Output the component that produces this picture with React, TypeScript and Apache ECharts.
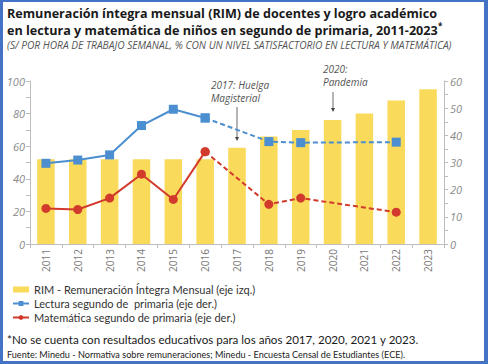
import React, { useEffect, useRef } from "react";
import * as echarts from "echarts";

const years = ["2011","2012","2013","2014","2015","2016","2017","2018","2019","2020","2021","2022","2023"];
const rim = [52, 52, 52, 52, 52, 52, 59, 66, 70, 76, 80, 88, 95];
const lectura = [29.7, 30.9, 32.8, 43.6, 49.6, 46.4, null, 37.7, 37.3, null, null, 37.5, null];
const matematica = [13.1, 12.7, 16.9, 25.7, 16.4, 34.0, null, 14.6, 16.9, null, null, 11.7, null];
const leftTicks = [0, 20, 40, 60, 80, 100];
const rightTicks = [0, 10, 20, 30, 40, 50, 60];

const SOLID_END = 5;
const solid = (a: (number | null)[]) => a.map((v, i) => (i <= SOLID_END ? v : null));
const dashed = (a: (number | null)[]) => a.map((v, i) => (i >= SOLID_END ? v : null));

const N_RIM = "RIM - Remuneración Íntegra Mensual (eje izq.)";
const N_LEC = "Lectura segundo de  primaria (eje der.)";
const N_MAT = "Matemática segundo de primaria (eje der.)";

const FONT = "Open Sans";
const FONT2 = "Lato";
const YELLOW = "#f9da5b";
const BLUE = "#4b8fd1";
const RED = "#d23a2c";

export default function App() {
  const ref = useRef<HTMLDivElement>(null);
  useEffect(() => {
    if (!ref.current) return;
    const chart = echarts.init(ref.current, undefined, { renderer: "svg" });
    const axisText = { color: "#8a8a8a", fontFamily: FONT, fontSize: 11, fontStyle: "italic" as const };
    const arrow = (x: number, y1: number, y2: number) => [
      { type: "line", shape: { x1: x, y1, x2: x, y2: y2 - 3 }, style: { stroke: "#444", lineWidth: 0.8 } },
      { type: "polygon", shape: { points: [[x - 2, y2 - 4], [x + 2, y2 - 4], [x, y2]] }, style: { fill: "#444" } },
    ];
    const titleStyle = { fontFamily: FONT, fontSize: 12.6, fontWeight: "bold" as const, fill: "#1a1a1a" };
    const annStyle = { fontFamily: FONT, fontSize: 10, fontStyle: "italic" as const, fill: "#555" };
    chart.setOption({
      animation: false,
      textStyle: { fontFamily: FONT },
      legend: {
        orient: "vertical",
        left: 7,
        top: 279,
        itemWidth: 16,
        itemHeight: 6,
        itemGap: 3,
        textStyle: { fontFamily: FONT2, fontSize: 11, color: "#333" },
        data: [{ name: N_RIM, icon: "rect" }, { name: N_LEC }, { name: N_MAT }],
      },
      grid: { left: 30, right: 44, top: 81, bottom: 120 },
      xAxis: {
        type: "category",
        data: years,
        axisLine: { lineStyle: { color: "#bdbdbd" } },
        axisTick: { show: true, length: 4, lineStyle: { color: "#bdbdbd" } },
        axisLabel: { rotate: 90, color: "#777", fontFamily: FONT, fontSize: 10, margin: 5 },
      },
      yAxis: [
        {
          type: "value", min: 0, max: 100, interval: 20,
          axisLine: { show: true, lineStyle: { color: "#bdbdbd" } },
          axisTick: { show: true, length: 4, lineStyle: { color: "#bdbdbd" } },
          minorTick: { show: true, splitNumber: 2, length: 4, lineStyle: { color: "#bdbdbd" } },
          splitLine: { show: false },
          axisLabel: { ...axisText, margin: 5, formatter: (v: number) => (leftTicks.includes(v) ? String(v) : "") },
        },
        {
          type: "value", min: 0, max: 60, interval: 10, position: "right",
          axisLine: { show: true, lineStyle: { color: "#bdbdbd" } },
          axisTick: { show: true, length: 4, lineStyle: { color: "#bdbdbd" } },
          minorTick: { show: true, splitNumber: 2, length: 4, lineStyle: { color: "#bdbdbd" } },
          splitLine: { show: false },
          axisLabel: { ...axisText, margin: 6, formatter: (v: number) => (rightTicks.includes(v) ? String(v) : "") },
        },
      ],
      series: [
        { name: N_RIM, type: "bar", data: rim, yAxisIndex: 0, barWidth: "55%", itemStyle: { color: YELLOW }, z: 1 },
        {
          name: N_LEC + " d", type: "line", yAxisIndex: 1, data: dashed(lectura), connectNulls: true,
          symbol: "rect", symbolSize: 9, lineStyle: { color: BLUE, width: 2, type: [5, 3] }, itemStyle: { color: BLUE }, z: 3,
        },
        {
          name: N_LEC, type: "line", yAxisIndex: 1, data: solid(lectura),
          symbol: "rect", symbolSize: 9, lineStyle: { color: BLUE, width: 2 }, itemStyle: { color: BLUE }, z: 4,
        },
        {
          name: N_MAT + " d", type: "line", yAxisIndex: 1, data: dashed(matematica), connectNulls: true,
          symbol: "circle", symbolSize: 9, lineStyle: { color: RED, width: 2, type: [5, 3] }, itemStyle: { color: RED }, z: 3,
        },
        {
          name: N_MAT, type: "line", yAxisIndex: 1, data: solid(matematica),
          symbol: "circle", symbolSize: 9, lineStyle: { color: RED, width: 2 }, itemStyle: { color: RED }, z: 4,
        },
      ],
      graphic: [
        { type: "text", left: 7, top: 7, style: { ...titleStyle, text: "Remuneración íntegra mensual (RIM) de docentes y logro académico" } },
        { type: "text", left: 7, top: 24, style: { ...titleStyle, text: "en lectura y matemática de niños en segundo de primaria, 2011-2023" } },
        { type: "text", left: 438, top: 21, style: { ...titleStyle, fontSize: 8, text: "*" } },
        { type: "text", left: 7, top: 40, style: { text: "(S/ POR HORA DE TRABAJO SEMANAL, % CON UN NIVEL SATISFACTORIO EN LECTURA Y MATEMÁTICA)", fontFamily: FONT, fontSize: 10.2, fontStyle: "italic", fill: "#555" } },
        { type: "text", left: 211, top: 80, style: { ...annStyle, text: "2017: Huelga" } },
        { type: "text", left: 211, top: 93, style: { ...annStyle, text: "Magisterial" } },
        ...arrow(237, 107, 141),
        { type: "text", left: 323, top: 64, style: { ...annStyle, text: "2020:" } },
        { type: "text", left: 323, top: 77, style: { ...annStyle, text: "Pandemia" } },
        ...arrow(333, 92, 112),
        { type: "text", left: 7, top: 333, style: { text: "*No se cuenta con resultados educativos para los años 2017, 2020, 2021 y 2023.", fontFamily: FONT2, fontSize: 11.6, fill: "#1a1a1a" } },
        { type: "text", left: 7, top: 350, style: { text: "Fuente: Minedu - Normativa sobre remuneraciones; Minedu - Encuesta Censal de Estudiantes (ECE).", fontFamily: FONT2, fontSize: 9.1, fill: "#1a1a1a" } },
      ],
    });
    return () => chart.dispose();
  }, []);
  return (
    <div style={{ position: "fixed", left: 0, top: 0, width: 488, height: 364, background: "#fff" }}>
      <div ref={ref} style={{ position: "absolute", left: 0, top: 0, width: 488, height: 364 }} />
      <div
        style={{
          position: "absolute", left: 0, top: 0, width: 488, height: 364, boxSizing: "border-box",
          borderStyle: "solid", borderColor: "#4472c4", borderWidth: "2px 4px 3px 3px", pointerEvents: "none",
        }}
      />
    </div>
  );
}
